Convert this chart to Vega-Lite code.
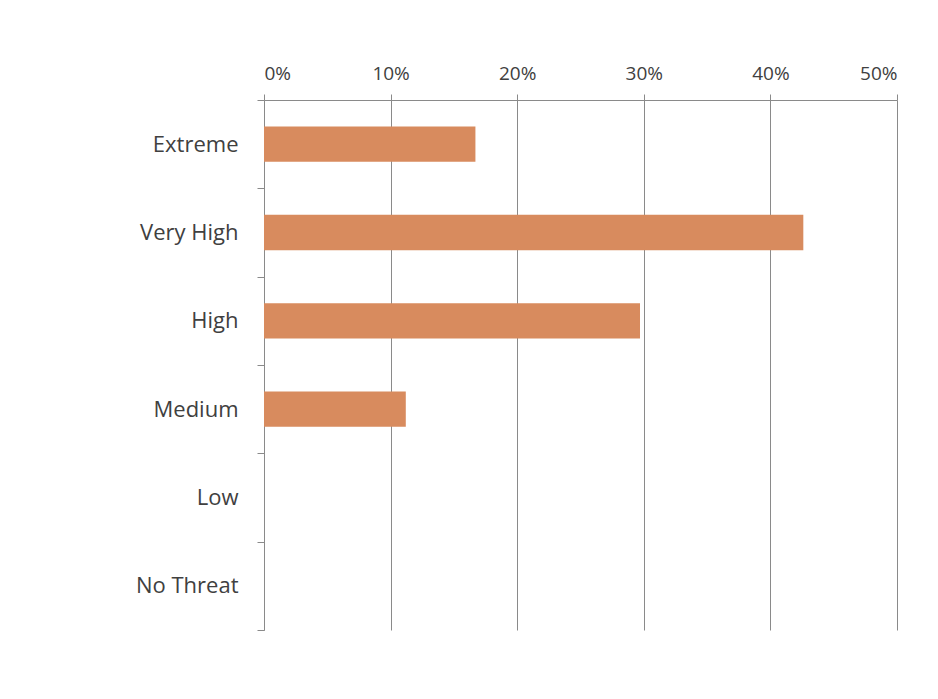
{
  "$schema": "https://vega.github.io/schema/vega-lite/v6.json",
  "autosize": "none",
  "width": 633,
  "height": 530,
  "padding": {"left": 264, "top": 100, "right": 41, "bottom": 69},
  "background": "white",
  "config": {
    "font": "Open Sans",
    "view": {"stroke": null},
    "axis": {"labelFont": "Open Sans", "labelColor": "#404040"}
  },
  "data": {
    "values": [
      {"threat": "Extreme", "share": 0.167},
      {"threat": "Very High", "share": 0.426},
      {"threat": "High", "share": 0.297},
      {"threat": "Medium", "share": 0.112},
      {"threat": "Low", "share": 0},
      {"threat": "No Threat", "share": 0}
    ]
  },
  "mark": {"type": "bar", "color": "#D88B5E", "height": {"band": 0.4}},
  "encoding": {
    "y": {
      "field": "threat",
      "type": "nominal",
      "sort": null,
      "scale": {"paddingInner": 0, "paddingOuter": 0},
      "axis": {
        "title": null,
        "orient": "left",
        "ticks": true,
        "tickBand": "extent",
        "tickColor": "#8a8a8a",
        "tickSize": 7,
        "domain": true,
        "domainColor": "#8a8a8a",
        "labelPadding": 19,
        "labelFontSize": 22,
        "grid": false
      }
    },
    "x": {
      "field": "share",
      "type": "quantitative",
      "scale": {"domain": [0, 0.5], "nice": false},
      "axis": {
        "title": null,
        "orient": "top",
        "format": ".0%",
        "values": [0, 0.1, 0.2, 0.3, 0.4, 0.5],
        "grid": true,
        "gridColor": "#8a8a8a",
        "gridWidth": 1,
        "gridOpacity": 1,
        "domainColor": "#8a8a8a",
        "tickColor": "#8a8a8a",
        "tickSize": 6,
        "labelPadding": 11,
        "labelFontSize": 19
      }
    }
  }
}
